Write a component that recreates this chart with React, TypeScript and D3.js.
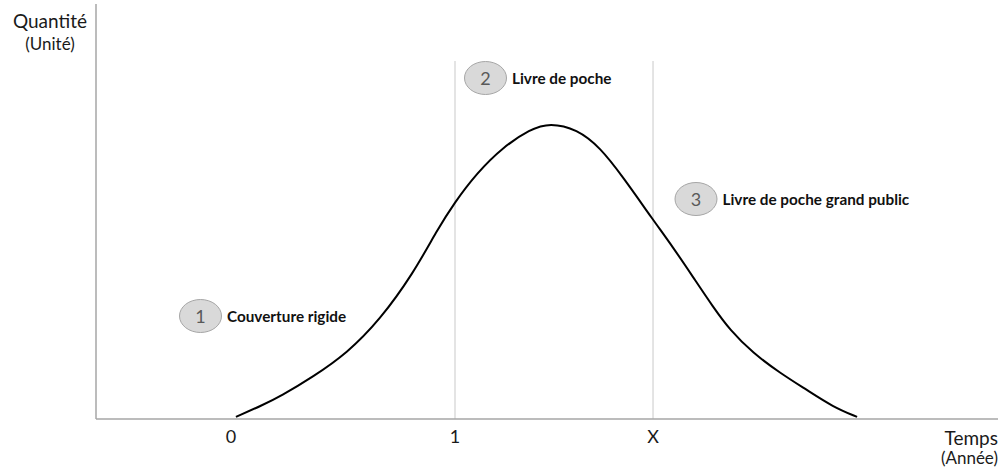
import { useEffect, useRef } from "react";
import * as d3 from "d3";

// courbe de vie du livre
const curveTime = [
  0.022, 0.143, 0.219, 0.367, 0.517, 0.665, 0.814, 0.92, 0.996, 1.098, 1.214, 1.335, 1.424,
  1.545, 1.647, 1.75, 1.884, 1.973, 2.063, 2.152, 2.228, 2.33, 2.451, 2.571, 2.688, 2.795,
];
const curveQty = [
  0.5, 3.4, 5.4, 10.2, 15.8, 23.9, 35.1, 45.5, 52.0, 59.3, 65.5, 69.8, 71.4,
  69.8, 65.5, 58.3, 48.0, 41.4, 34.2, 27.0, 21.4, 15.9, 11.1, 7.0, 2.9, 0.5,
];

const tickValues = [0, 1, 1.884];
const tickLabels = ["0", "1", "X"];
const phaseLines = [1, 1.884];
const phaseNumbers = ["1", "2", "3"];
const phaseLabels = ["Couverture rigide", "Livre de poche", "Livre de poche grand public"];

const App = () => {
  const svgRef = useRef<SVGSVGElement>(null);

  useEffect(() => {
    if (!svgRef.current) return;
    const width = 1003;
    const height = 472;
    const svg = d3.select(svgRef.current);
    svg.selectAll("*").remove();
    svg.attr("width", width).attr("height", height);

    const font = "Lato, 'Open Sans', sans-serif";

    // échelles
    const xScale = d3.scaleLinear().domain([0, 1]).range([231, 455]);
    const yScale = d3.scaleLinear().domain([0, 100]).range([419, 4]);
    const x0 = 96;
    const x1 = 998;

    // lignes verticales des phases
    svg
      .selectAll(".phase-line")
      .data(phaseLines)
      .enter()
      .append("line")
      .attr("x1", (d) => xScale(d))
      .attr("x2", (d) => xScale(d))
      .attr("y1", 61)
      .attr("y2", yScale(0))
      .attr("stroke", "#c9c9c9")
      .attr("stroke-width", 1);

    // axes
    svg
      .append("line")
      .attr("x1", x0)
      .attr("x2", x1)
      .attr("y1", yScale(0))
      .attr("y2", yScale(0))
      .attr("stroke", "#a6a6a6")
      .attr("stroke-width", 1.5);
    svg
      .append("line")
      .attr("x1", x0)
      .attr("x2", x0)
      .attr("y1", yScale(100))
      .attr("y2", yScale(0))
      .attr("stroke", "#a6a6a6")
      .attr("stroke-width", 1.5);

    // étiquettes de l'axe x
    svg
      .selectAll(".tick-label")
      .data(tickValues)
      .enter()
      .append("text")
      .attr("x", (d) => xScale(d))
      .attr("y", 443)
      .attr("text-anchor", "middle")
      .attr("font-family", font)
      .attr("font-size", 18)
      .attr("fill", "#1a1a1a")
      .text((d, i) => tickLabels[i]);

    // titres des axes
    svg.append("text").attr("x", 50).attr("y", 28).attr("text-anchor", "middle")
      .attr("font-family", font).attr("font-size", 19).attr("fill", "#1a1a1a").text("Quantité");
    svg.append("text").attr("x", 50).attr("y", 50).attr("text-anchor", "middle")
      .attr("font-family", font).attr("font-size", 17).attr("fill", "#1a1a1a").text("(Unité)");
    svg.append("text").attr("x", x1).attr("y", 445).attr("text-anchor", "end")
      .attr("font-family", font).attr("font-size", 19).attr("fill", "#1a1a1a").text("Temps");
    svg.append("text").attr("x", x1).attr("y", 464).attr("text-anchor", "end")
      .attr("font-family", font).attr("font-size", 17).attr("fill", "#1a1a1a").text("(Année)");

    // courbe
    const points: [number, number][] = curveTime.map((t, i) => [t, curveQty[i]]);
    const line = d3
      .line<[number, number]>()
      .x((d) => xScale(d[0]))
      .y((d) => yScale(d[1]))
      .curve(d3.curveBasis);
    svg
      .append("path")
      .attr("d", line(points))
      .attr("fill", "none")
      .attr("stroke", "#000")
      .attr("stroke-width", 2);

    // annotations des phases (position de la bulle)
    const bubblePos = [
      [200.5, 316],
      [485.5, 78],
      [696, 199],
    ];
    const bubbles = svg
      .selectAll(".phase")
      .data(phaseLabels)
      .enter()
      .append("g")
      .attr("transform", (d, i) => `translate(${bubblePos[i][0]}, ${bubblePos[i][1]})`);
    bubbles
      .append("ellipse")
      .attr("rx", 21)
      .attr("ry", 16.5)
      .attr("fill", "#d9d9d9")
      .attr("stroke", "#a6a6a6")
      .attr("stroke-width", 1);
    bubbles
      .append("text")
      .attr("y", 7)
      .attr("text-anchor", "middle")
      .attr("font-family", font)
      .attr("font-size", 18)
      .attr("fill", "#595959")
      .text((d, i) => phaseNumbers[i]);
    bubbles
      .append("text")
      .attr("x", 26.5)
      .attr("y", 5.5)
      .attr("font-family", font)
      .attr("font-weight", "bold")
      .attr("font-size", 15.3)
      .attr("fill", "#111")
      .text((d) => d);
  }, []);

  return (
    <div style={{ position: "absolute", left: 0, top: 0 }}>
      <svg ref={svgRef}></svg>
    </div>
  );
};

export default App;
